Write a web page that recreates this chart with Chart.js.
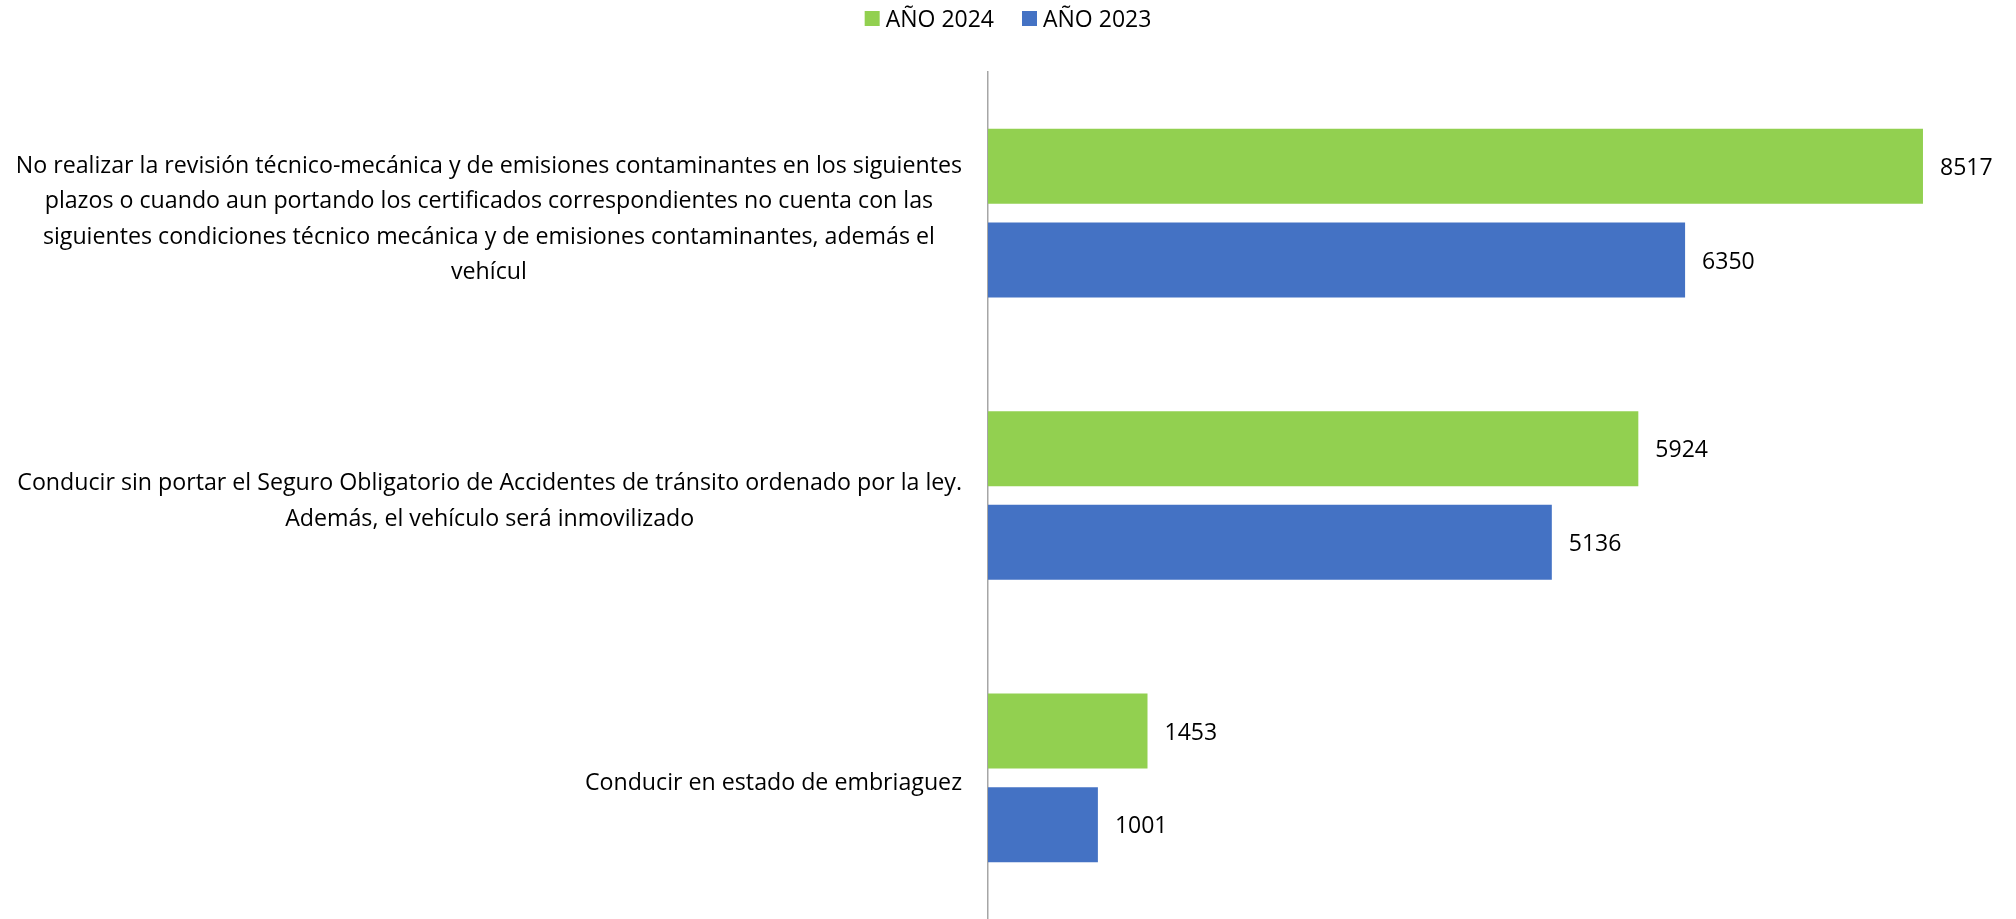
<!DOCTYPE html>
<html>
<head>
<meta charset="utf-8">
<script src="https://cdn.jsdelivr.net/npm/chart.js@4.4.1/dist/chart.umd.min.js"></script>
<style>
  html, body { margin: 0; padding: 0; background: #ffffff; }
  #wrap { width: 2016px; height: 919px; }
</style>
</head>
<body>
<div id="wrap"><canvas id="c" width="2016" height="919"></canvas></div>
<script>
const categories = [
  ['No realizar la revisión técnico-mecánica y de emisiones contaminantes en los siguientes',
   'plazos o cuando aun portando los certificados correspondientes no cuenta con las',
   'siguientes condiciones técnico mecánica y de emisiones contaminantes, además el',
   'vehícul'],
  ['Conducir sin portar el Seguro Obligatorio de Accidentes de tránsito ordenado por la ley.',
   'Además, el vehículo será inmovilizado'],
  ['Conducir en estado de embriaguez']
];
const seriesNames = ['AÑO 2024', 'AÑO 2023'];
const values2024 = [8517, 5924, 1453];
const values2023 = [6350, 5136, 1001];
const xMin = 0;
const xMax = 9000;

const FONT = '"Open Sans", "Noto Sans", sans-serif';
const colors = ['#92D050', '#4472C4'];

const labelPlugin = {
  id: 'customText',
  afterDatasetsDraw(chart) {
    const ctx = chart.ctx;
    const area = chart.chartArea;
    const yScale = chart.scales.y;
    ctx.save();
    ctx.fillStyle = '#000000';
    // category labels
    ctx.font = '23.2px ' + FONT;
    ctx.textAlign = 'center';
    ctx.textBaseline = 'middle';
    categories.forEach((lines, i) => {
      const yc = yScale.getPixelForValue(i);
      let maxW = 0;
      lines.forEach(l => { maxW = Math.max(maxW, ctx.measureText(l).width); });
      const cx = area.left - 26 - maxW / 2;
      const lh = 35.5;
      lines.forEach((l, j) => {
        ctx.fillText(l, cx, yc + (j - (lines.length - 1) / 2) * lh + 6);
      });
    });
    // value labels
    ctx.font = '23px ' + FONT;
    ctx.textAlign = 'left';
    chart.data.datasets.forEach((ds, di) => {
      const meta = chart.getDatasetMeta(di);
      meta.data.forEach((el, k) => {
        ctx.fillText(String(ds.data[k]), el.x + 17, el.y + 2);
      });
    });
    // legend
    ctx.font = '23px ' + FONT;
    const sq = 15, gapTxt = 6, gapItem = 28;
    const widths = chart.data.datasets.map(ds => sq + gapTxt + ctx.measureText(ds.label).width);
    const total = widths.reduce((a, b) => a + b, 0) + gapItem * (widths.length - 1);
    let x = chart.width / 2 - total / 2;
    chart.data.datasets.forEach((ds, di) => {
      ctx.fillStyle = ds.backgroundColor;
      ctx.fillRect(x, 11, sq, sq);
      ctx.fillStyle = '#000000';
      ctx.textBaseline = 'middle';
      ctx.fillText(ds.label, x + sq + gapTxt, 20);
      x += widths[di] + gapItem;
    });
    ctx.restore();
  }
};

new Chart(document.getElementById('c'), {
  type: 'bar',
  data: {
    labels: categories,
    datasets: [
      { label: seriesNames[0], data: values2024, backgroundColor: colors[0] },
      { label: seriesNames[1], data: values2023, backgroundColor: colors[1] }
    ]
  },
  options: {
    indexAxis: 'y',
    responsive: false,
    animation: false,
    devicePixelRatio: 1,
    categoryPercentage: 0.664,
    barPercentage: 0.8,
    layout: { padding: { top: 72, right: 40, bottom: 0, left: 0 } },
    plugins: {
      legend: { display: false },
      tooltip: { enabled: false }
    },
    scales: {
      x: { display: false, min: xMin, max: xMax },
      y: {
        display: true,
        grid: { display: false },
        ticks: { display: false },
        border: { display: true, color: '#a6a6a6', width: 1.5 },
        afterFit(scale) { scale.width = 988; }
      }
    }
  },
  plugins: [labelPlugin]
});
</script>
</body>
</html>
